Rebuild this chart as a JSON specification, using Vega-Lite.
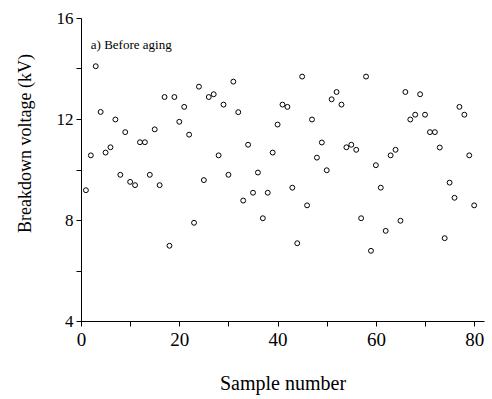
{
  "$schema": "https://vega.github.io/schema/vega-lite/v6.json",
  "width": 403,
  "height": 303,
  "autosize": {"type": "none"},
  "padding": {"left": 81, "top": 18, "right": 8, "bottom": 78},
  "background": "white",
  "config": {
    "view": {"stroke": null},
    "font": "Liberation Serif",
    "axis": {
      "grid": false,
      "domainColor": "black",
      "tickColor": "black",
      "labelColor": "black",
      "titleColor": "black",
      "labelFont": "Liberation Serif",
      "titleFont": "Liberation Serif",
      "titleFontWeight": "normal",
      "tickSize": 5
    }
  },
  "data": {
    "values": [
      {"sample": 1, "voltage": 9.18},
      {"sample": 2, "voltage": 10.56},
      {"sample": 3, "voltage": 14.09},
      {"sample": 4, "voltage": 12.28},
      {"sample": 5, "voltage": 10.67},
      {"sample": 6, "voltage": 10.88},
      {"sample": 7, "voltage": 11.98},
      {"sample": 8, "voltage": 9.79},
      {"sample": 9, "voltage": 11.48},
      {"sample": 10, "voltage": 9.51},
      {"sample": 11, "voltage": 9.38},
      {"sample": 12, "voltage": 11.08},
      {"sample": 13, "voltage": 11.08},
      {"sample": 14, "voltage": 9.79},
      {"sample": 15, "voltage": 11.59},
      {"sample": 16, "voltage": 9.38},
      {"sample": 17, "voltage": 12.87},
      {"sample": 18, "voltage": 6.98},
      {"sample": 19, "voltage": 12.87},
      {"sample": 20, "voltage": 11.89},
      {"sample": 21, "voltage": 12.48},
      {"sample": 22, "voltage": 11.38},
      {"sample": 23, "voltage": 7.89},
      {"sample": 24, "voltage": 13.28},
      {"sample": 25, "voltage": 9.58},
      {"sample": 26, "voltage": 12.87},
      {"sample": 27, "voltage": 12.98},
      {"sample": 28, "voltage": 10.56},
      {"sample": 29, "voltage": 12.57},
      {"sample": 30, "voltage": 9.79},
      {"sample": 31, "voltage": 13.48},
      {"sample": 32, "voltage": 12.27},
      {"sample": 33, "voltage": 8.77},
      {"sample": 34, "voltage": 10.98},
      {"sample": 35, "voltage": 9.08},
      {"sample": 36, "voltage": 9.88},
      {"sample": 37, "voltage": 8.07},
      {"sample": 38, "voltage": 9.08},
      {"sample": 39, "voltage": 10.67},
      {"sample": 40, "voltage": 11.78},
      {"sample": 41, "voltage": 12.57},
      {"sample": 42, "voltage": 12.48},
      {"sample": 43, "voltage": 9.28},
      {"sample": 44, "voltage": 7.08},
      {"sample": 45, "voltage": 13.68},
      {"sample": 46, "voltage": 8.58},
      {"sample": 47, "voltage": 11.98},
      {"sample": 48, "voltage": 10.47},
      {"sample": 49, "voltage": 11.07},
      {"sample": 50, "voltage": 9.97},
      {"sample": 51, "voltage": 12.78},
      {"sample": 52, "voltage": 13.07},
      {"sample": 53, "voltage": 12.57},
      {"sample": 54, "voltage": 10.88},
      {"sample": 55, "voltage": 10.98},
      {"sample": 56, "voltage": 10.78},
      {"sample": 57, "voltage": 8.07},
      {"sample": 58, "voltage": 13.68},
      {"sample": 59, "voltage": 6.78},
      {"sample": 60, "voltage": 10.17},
      {"sample": 61, "voltage": 9.28},
      {"sample": 62, "voltage": 7.57},
      {"sample": 63, "voltage": 10.56},
      {"sample": 64, "voltage": 10.78},
      {"sample": 65, "voltage": 7.97},
      {"sample": 66, "voltage": 13.07},
      {"sample": 67, "voltage": 11.98},
      {"sample": 68, "voltage": 12.17},
      {"sample": 69, "voltage": 12.98},
      {"sample": 70, "voltage": 12.17},
      {"sample": 71, "voltage": 11.48},
      {"sample": 72, "voltage": 11.48},
      {"sample": 73, "voltage": 10.87},
      {"sample": 74, "voltage": 7.28},
      {"sample": 75, "voltage": 9.48},
      {"sample": 76, "voltage": 8.88},
      {"sample": 77, "voltage": 12.48},
      {"sample": 78, "voltage": 12.17},
      {"sample": 79, "voltage": 10.56},
      {"sample": 80, "voltage": 8.58}
    ]
  },
  "layer": [
    {
      "mark": {"type": "point", "shape": "circle", "filled": false, "stroke": "black", "strokeWidth": 1, "size": 24, "opacity": 1},
      "encoding": {
        "x": {
          "field": "sample", "type": "quantitative",
          "scale": {"domain": [0, 82], "nice": false, "zero": false},
          "axis": {
            "title": "Sample number",
            "titleFont": "Liberation Serif",
            "titleFontSize": 20,
            "titlePadding": 24,
            "labelFont": "Liberation Serif",
            "labelFontSize": 19,
            "labelPadding": 4,
            "values": [0, 10, 20, 30, 40, 50, 60, 70, 80],
            "labelExpr": "datum.value % 20 == 0 ? datum.label : ''",
            "labelFlush": false
          }
        },
        "y": {
          "field": "voltage", "type": "quantitative",
          "scale": {"domain": [4, 16], "nice": false, "zero": false},
          "axis": {
            "title": "Breakdown voltage (kV)",
            "titleFont": "Liberation Serif",
            "titleFontSize": 18,
            "titleX": -56,
            "titleY": 125,
            "titleAngle": -90,
            "titleAlign": "center",
            "titleBaseline": "middle",
            "labelFont": "Liberation Serif",
            "labelFontSize": 17,
            "labelPadding": 3,
            "values": [4, 6, 8, 10, 12, 14, 16],
            "labelExpr": "datum.value % 4 == 0 ? datum.label : ''",
            "labelFlush": false
          }
        }
      }
    },
    {
      "data": {"values": [{"label": "a) Before aging"}]},
      "mark": {"type": "text", "align": "left", "baseline": "alphabetic", "fontSize": 13, "font": "Liberation Serif", "color": "black"},
      "encoding": {
        "text": {"field": "label"},
        "x": {"datum": 2},
        "y": {"datum": 14.79}
      }
    }
  ]
}
